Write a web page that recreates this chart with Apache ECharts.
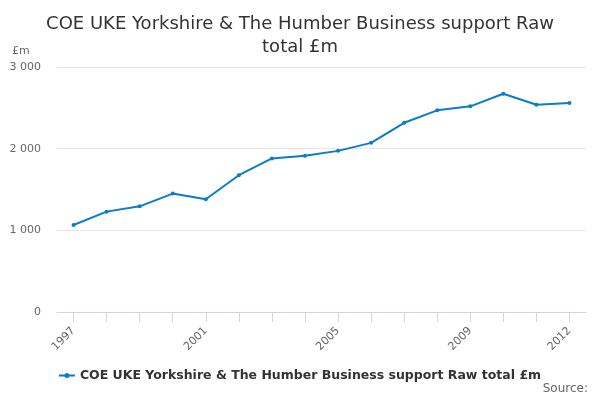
<!DOCTYPE html>
<html><head><meta charset="utf-8">
<script src="https://cdn.jsdelivr.net/npm/echarts@6/dist/echarts.min.js"></script>
<style>html,body{margin:0;padding:0;background:#fff}#c{width:600px;height:400px}</style>
</head><body><div id="c"></div>
<script>
const years = ['1997','1998','1999','2000','2001','2002','2003','2004','2005','2006','2007','2008','2009','2010','2011','2012'];
const values = [1065,1229,1294,1450,1380,1675,1880,1912,1973,2071,2317,2469,2518,2672,2537,2558];
const yTicks = [0,1000,2000,3000];
const seriesName = 'COE UKE Yorkshire & The Humber Business support Raw total £m';
const titleText = 'COE UKE Yorkshire & The Humber Business support Raw\ntotal £m';
const FONT = 'DejaVu Sans';
const chart = echarts.init(document.getElementById('c'));
chart.setOption({
  animation:false,
  textStyle:{fontFamily:FONT},
  title:{text:titleText,left:'center',top:8,textStyle:{fontFamily:FONT,fontSize:18,fontWeight:'normal',color:'#333',lineHeight:23}},
  graphic:[
    {type:'text',left:12,top:46,style:{text:'£m',fontFamily:FONT,fontSize:11,fill:'#666'}},
    {type:'text',right:12,top:383,style:{text:'Source:',fontFamily:FONT,fontSize:12,fill:'#666'}}
  ],
  legend:{top:364,left:'center',itemWidth:16,itemHeight:5,itemGap:5,
    icon:'path://M0,3L16,3L16,5L0,5ZM5.5,4A2.5,2.5 0 1,1 10.5,4A2.5,2.5 0 1,1 5.5,4Z',
    textStyle:{fontFamily:FONT,fontSize:12.5,fontWeight:'bold',color:'#333'},data:[seriesName]},
  grid:{left:57,right:14,top:67,bottom:88},
  xAxis:{type:'category',data:years,boundaryGap:true,
    axisLine:{show:true,lineStyle:{color:'#ccd6eb'}},
    axisTick:{show:true,alignWithLabel:true,length:10,lineStyle:{color:'#ccd6eb'},interval:0},
    axisLabel:{rotate:45,fontSize:11,color:'#666',fontFamily:FONT,margin:17,
      interval:function(i){return i%4===0||i===years.length-1;}}},
  yAxis:{type:'value',min:yTicks[0],max:yTicks[yTicks.length-1],interval:1000,
    axisLine:{show:false},axisTick:{show:false},
    splitLine:{lineStyle:{color:'#e6e6e6'}},
    axisLabel:{fontSize:11,color:'#666',fontFamily:FONT,margin:16,
      formatter:function(v){return String(v).replace(/\B(?=(\d{3})+(?!\d))/g,' ');}}},
  series:[{name:seriesName,type:'line',data:values,color:'#0b7dc7',
    lineStyle:{width:2},symbol:'circle',symbolSize:4,itemStyle:{color:'#0b7dc7'}}]
});
</script></body></html>
